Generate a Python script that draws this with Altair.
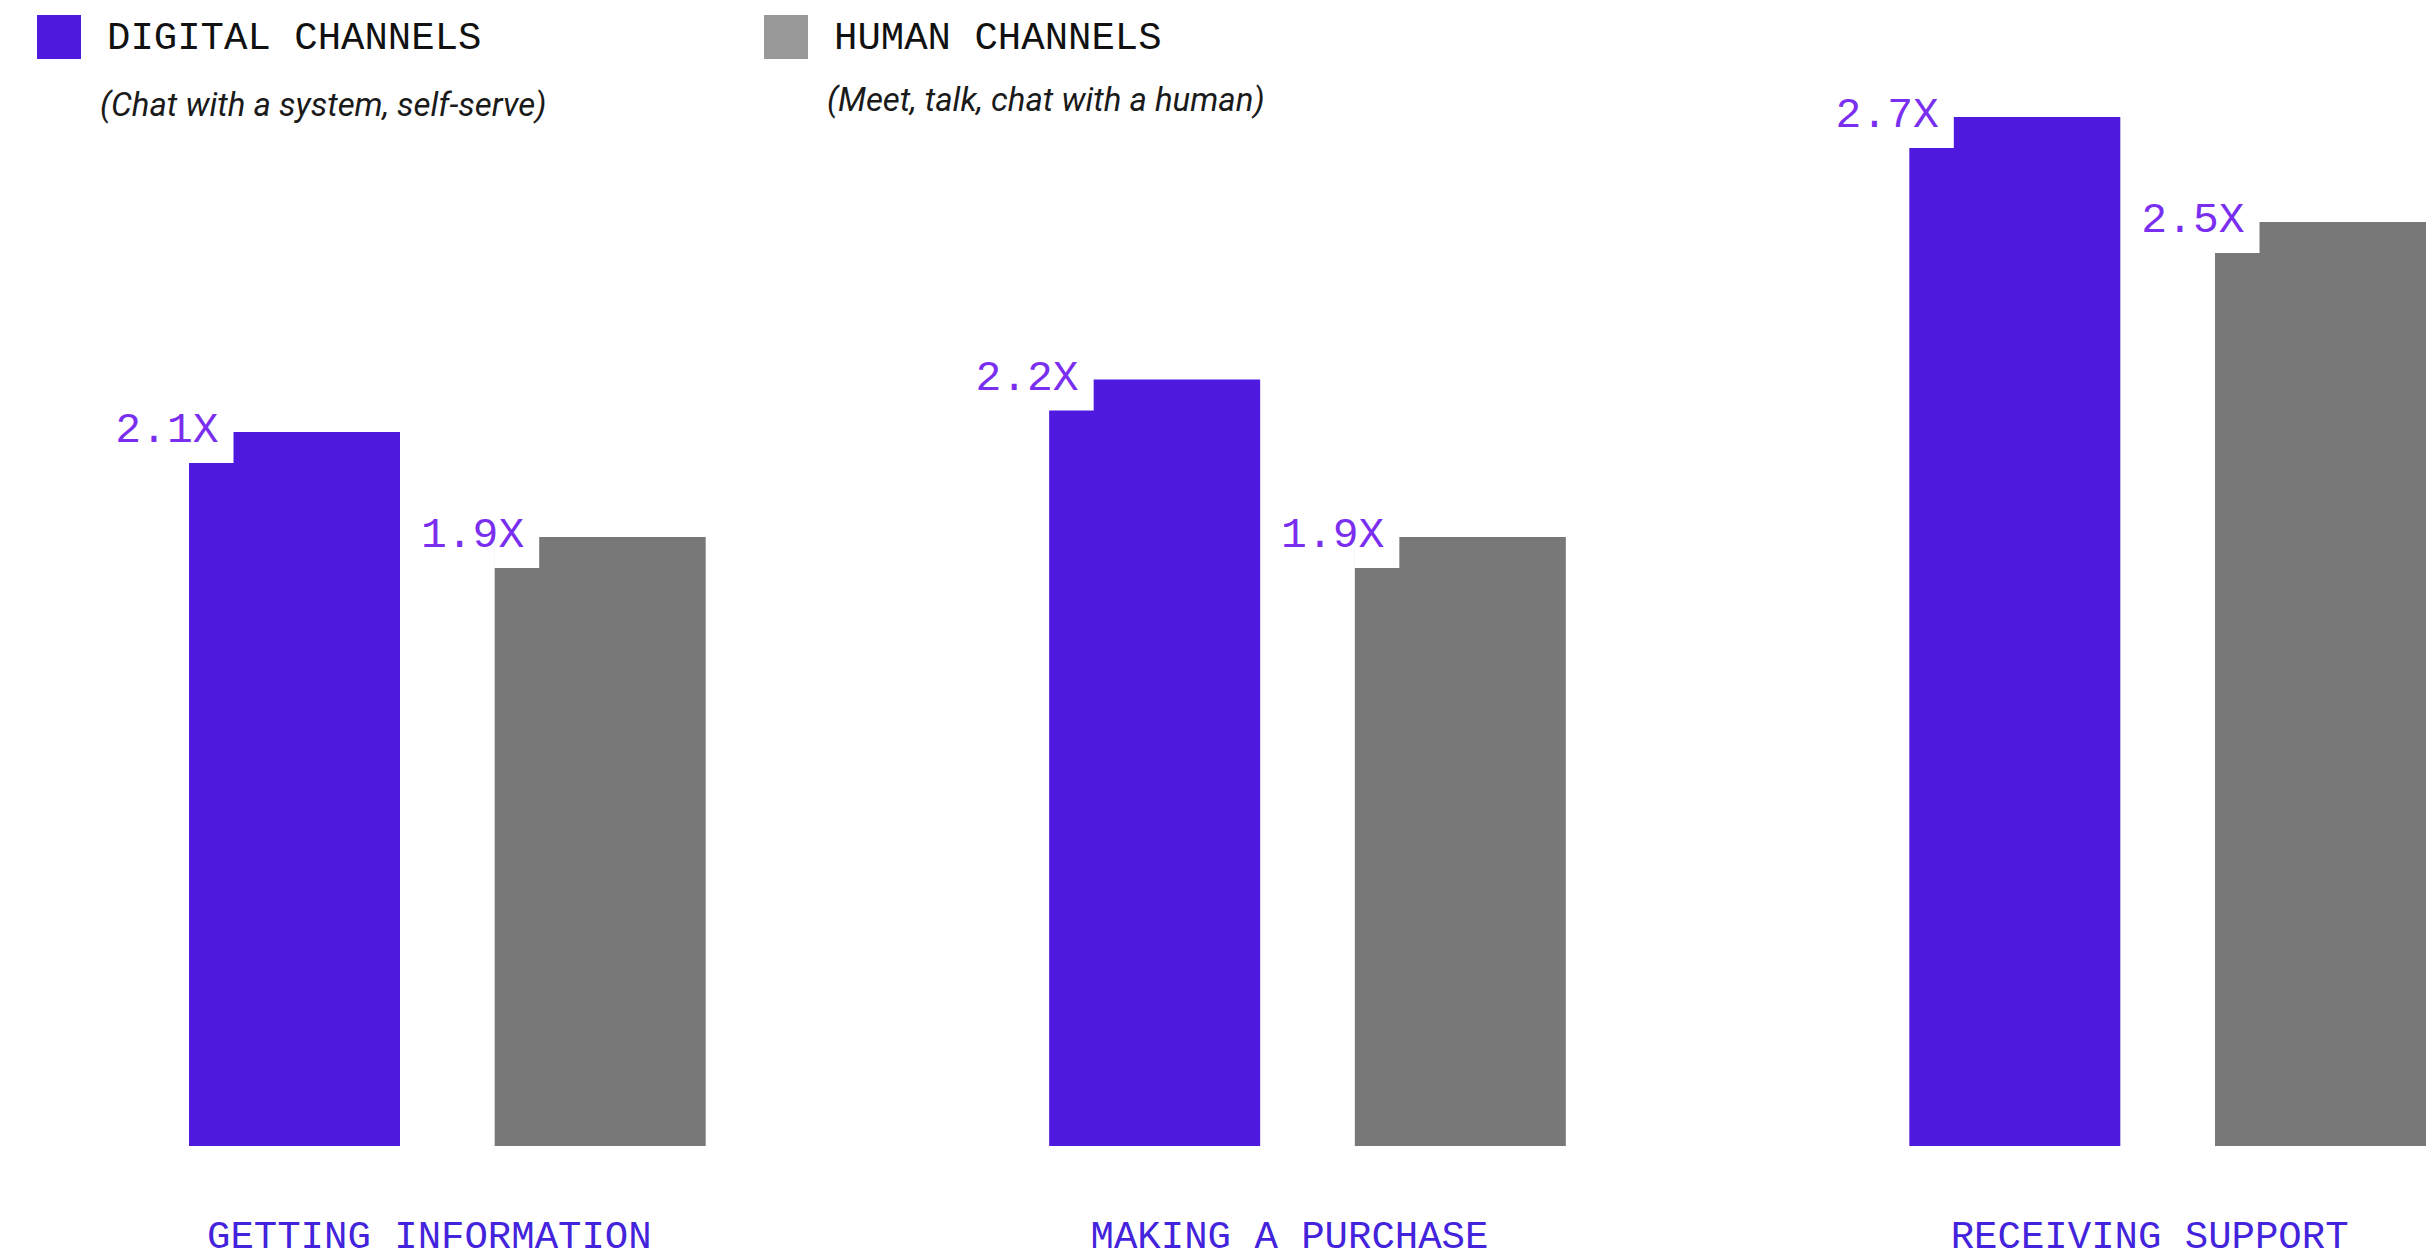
import altair as alt
import pandas as pd

# Survey results: how many times more likely customers prefer each channel type
categories = ["GETTING INFORMATION", "MAKING A PURCHASE", "RECEIVING SUPPORT"]
channels = ["DIGITAL CHANNELS", "HUMAN CHANNELS"]
channel_notes = ["(Chat with a system, self-serve)", "(Meet, talk, chat with a human)"]
digital_multiple = [2.1, 2.2, 2.7]
human_multiple = [1.9, 1.9, 2.5]

rows = []
for i, activity in enumerate(categories):
    rows.append({"activity": activity, "channel": channels[0], "multiple": digital_multiple[i]})
    rows.append({"activity": activity, "channel": channels[1], "multiple": human_multiple[i]})
df = pd.DataFrame(rows)

PURPLE = "#4f19df"
GREY = "#787878"
LEGEND_GREY = "#999999"
VALUE_PURPLE = "#7a2ff0"
AXIS_PURPLE = "#4323dc"
MONO = "Liberation Mono"
SANS = "Roboto"

base = alt.Chart(df).encode(
    x=alt.X(
        "activity:N",
        sort=categories,
        title=None,
        scale=alt.Scale(paddingInner=0.3993, paddingOuter=0),
        axis=alt.Axis(
            labelAngle=0,
            domain=False,
            ticks=False,
            grid=False,
            labelFont=MONO,
            labelFontSize=39,
            labelColor=AXIS_PURPLE,
            labelBaseline="alphabetic",
            labelPadding=101,
            labelOffset=-18,
            labelLimit=0,
        ),
    ),
    xOffset=alt.XOffset(
        "channel:N", sort=channels, scale=alt.Scale(paddingInner=0.3097, paddingOuter=0)
    ),
    y=alt.Y(
        "multiple:Q",
        scale=alt.Scale(domain=[0.74, 2.9], zero=False, nice=False, clamp=True),
        axis=None,
    ),
)

bars = base.mark_bar(strokeWidth=0).encode(
    color=alt.Color(
        "channel:N", scale=alt.Scale(domain=channels, range=[PURPLE, GREY]), legend=None
    )
)

# white tab cut out of each bar's top-left corner, behind the value label
notch = base.mark_point(
    shape="M-106,-1H-61V31H-106Z",
    size=4,
    filled=True,
    fill="white",
    opacity=1,
    strokeWidth=0,
)

values = base.transform_calculate(
    label="format(datum.multiple, '.1f') + 'X'"
).mark_text(
    align="right",
    baseline="alphabetic",
    dx=-76,
    dy=10,
    font=MONO,
    fontSize=43,
    color=VALUE_PURPLE,
).encode(text="label:N")


def legend_entry(i, x0, swatch, note_base):
    src = alt.Chart(pd.DataFrame({"channel": [channels[i]], "note": [channel_notes[i]]}))
    square = src.mark_rect(color=swatch).encode(
        x=alt.value(x0), x2=alt.value(x0 + 44), y=alt.value(3), y2=alt.value(47)
    )
    name = src.mark_text(
        align="left", baseline="alphabetic", font=MONO, fontSize=39, color="#111111"
    ).encode(x=alt.value(x0 + 70), y=alt.value(37), text="channel:N")
    note = src.mark_text(
        align="left",
        baseline="alphabetic",
        font=SANS,
        fontStyle="italic",
        fontSize=33,
        color="#1a1a1a",
    ).encode(x=alt.value(x0 + 63), y=alt.value(note_base), text="note:N")
    return square + name + note


legend_digital = legend_entry(0, -152, PURPLE, 104)
legend_human = legend_entry(1, 575, LEGEND_GREY, 99)

chart = (
    alt.layer(bars, notch, values, legend_digital, legend_human)
    .properties(
        width=2237,
        height=1134,
        padding={"left": 189, "right": 8, "top": 12, "bottom": 114},
        autosize=alt.AutoSizeParams(type="none"),
        background="white",
    )
    .configure_view(stroke=None)
)

chart.save("out.html", embed_options={"renderer": "svg", "actions": False})
